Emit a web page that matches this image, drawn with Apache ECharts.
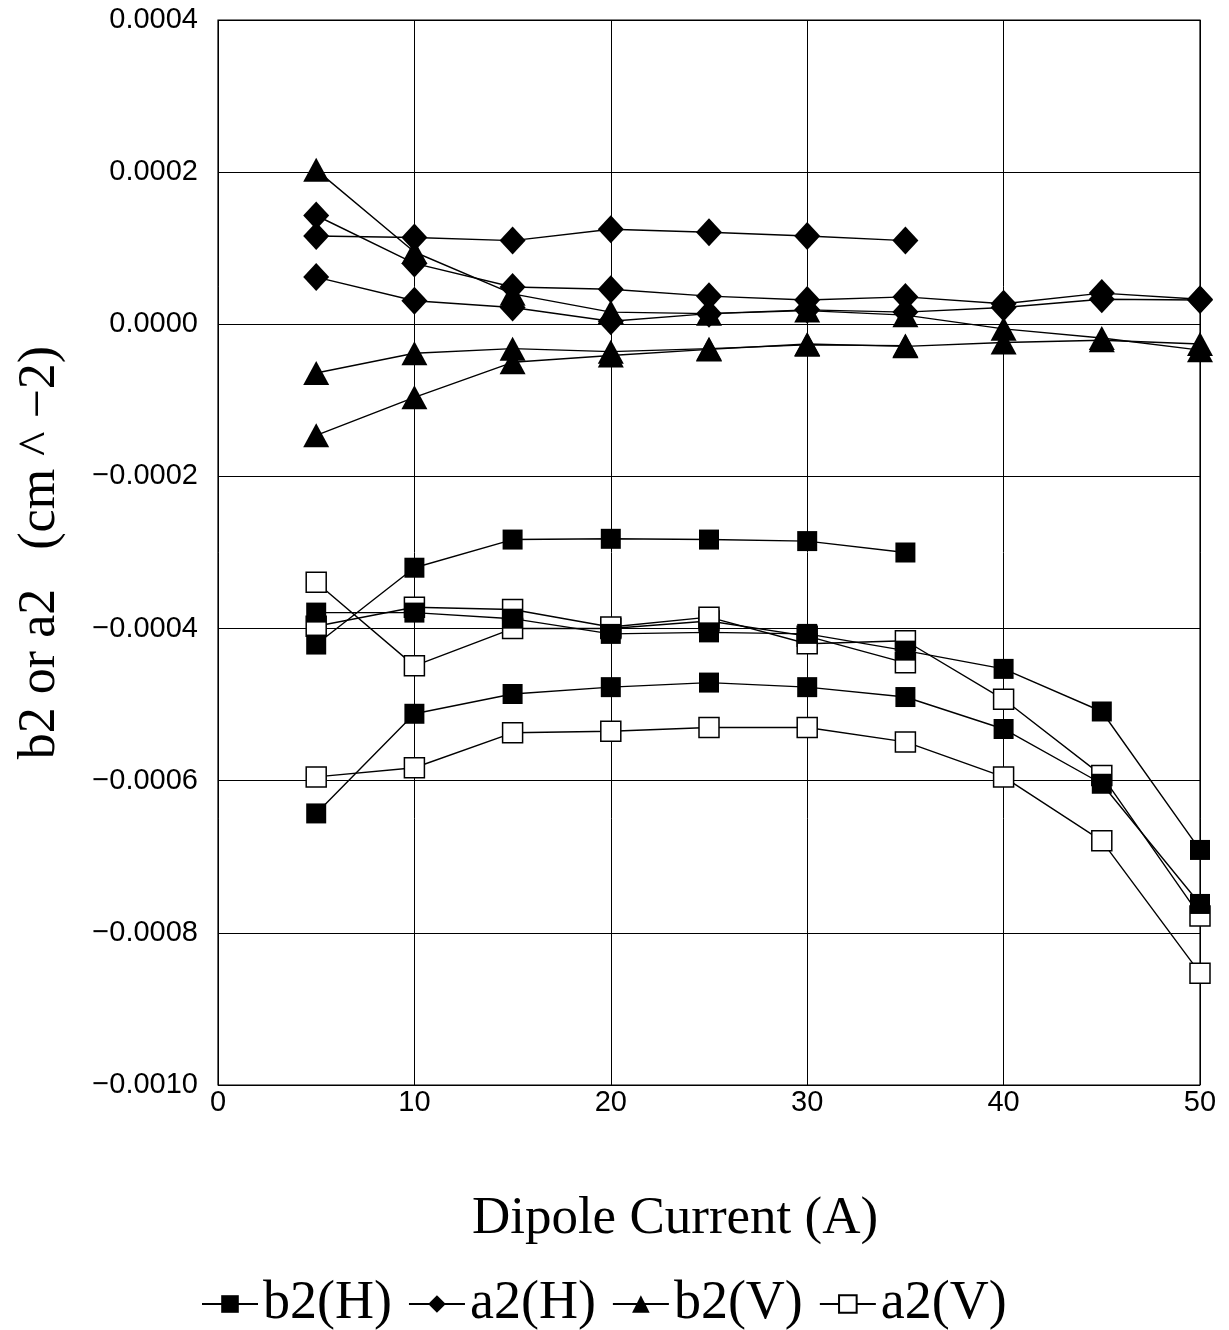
<!DOCTYPE html>
<html>
<head>
<meta charset="utf-8">
<script src="https://cdn.jsdelivr.net/npm/echarts@6/dist/echarts.min.js"></script>
<style>
  html, body { margin: 0; padding: 0; background: #fff; }
  #chart { width: 1229px; height: 1330px; }
</style>
</head>
<body>
<div id="chart"></div>
<script>
// dipole current (A)
const currents = [5, 10, 15, 20, 25, 30, 35, 40, 45, 50];

// run 1 stops at 35 A, runs 2 and 3 go up to 50 A
const b2H_1 = [-0.000421, -0.000320, -0.000283, -0.000282, -0.000283, -0.000285, -0.000300];
const b2H_2 = [-0.000379, -0.000379, -0.000387, -0.000407, -0.000405, -0.000407, -0.000429, -0.000453, -0.000509, -0.000691];
const b2H_3 = [-0.000643, -0.000512, -0.000486, -0.000477, -0.000471, -0.000477, -0.000490, -0.000532, -0.000604, -0.000762];

const a2H_1 = [0.000116, 0.000114, 0.000110, 0.000125, 0.000121, 0.000116, 0.000110];
const a2H_2 = [0.000143, 0.000080, 0.000049, 0.000046, 0.000037, 0.000032, 0.000036, 0.000027, 0.000041, 0.000033];
const a2H_3 = [0.000062, 0.000031, 0.000022, 0.000004, 0.000014, 0.000019, 0.000016, 0.000022, 0.000033, 0.000032];

const b2V_1 = [-0.000064, -0.000038, -0.000032, -0.000036, -0.000032, -0.000027, -0.000028];
const b2V_2 = [0.000203, 0.000095, 0.000040, 0.000016, 0.000014, 0.000018, 0.000012, -0.000006, -0.000018, -0.000034];
const b2V_3 = [-0.000146, -0.000096, -0.000050, -0.000041, -0.000033, -0.000026, -0.000029, -0.000024, -0.000021, -0.000026];

const a2V_1 = [-0.000339, -0.000449, -0.000400, -0.000400, -0.000390, -0.000410, -0.000445];
const a2V_2 = [-0.000397, -0.000372, -0.000375, -0.000398, -0.000385, -0.000420, -0.000416, -0.000493, -0.000593, -0.000778];
const a2V_3 = [-0.000595, -0.000583, -0.000537, -0.000535, -0.000530, -0.000530, -0.000549, -0.000595, -0.000679, -0.000853];

const legendNames = ['b2(H)', 'a2(H)', 'b2(V)', 'a2(V)'];

const serif = "'Liberation Serif', 'Times New Roman', serif";
const sans = "'Liberation Sans', Arial, sans-serif";

function pairs(vals) {
    return vals.map((v, i) => [currents[i], v]);
}

// marker look for each quantity
const looks = {
    'b2(H)': { symbol: 'rect', symbolSize: 20, itemStyle: { color: '#000' } },
    'a2(H)': { symbol: 'diamond', symbolSize: [26, 28], itemStyle: { color: '#000' } },
    'b2(V)': { symbol: 'triangle', symbolSize: [26, 24], itemStyle: { color: '#000' } },
    'a2(V)': { symbol: 'rect', symbolSize: 20, itemStyle: { color: '#fff', borderColor: '#000', borderWidth: 1.5 } }
};

function makeSeries(name, vals) {
    const look = looks[name];
    return {
        name: name,
        type: 'line',
        data: pairs(vals),
        symbol: look.symbol,
        symbolSize: look.symbolSize,
        showAllSymbol: true,
        itemStyle: look.itemStyle,
        lineStyle: { color: '#000', width: 1.4 },
        emphasis: { disabled: true },
        animation: false
    };
}

const seriesList = [
    makeSeries('b2(H)', b2H_1),
    makeSeries('b2(H)', b2H_2),
    makeSeries('b2(H)', b2H_3),
    makeSeries('a2(H)', a2H_1),
    makeSeries('a2(H)', a2H_2),
    makeSeries('a2(H)', a2H_3),
    makeSeries('b2(V)', b2V_1),
    makeSeries('b2(V)', b2V_2),
    makeSeries('b2(V)', b2V_3),
    makeSeries('a2(V)', a2V_1),
    makeSeries('a2(V)', a2V_2),
    makeSeries('a2(V)', a2V_3)
];
// open squares sit underneath the filled ones
seriesList.slice(9).forEach(s => { s.z = 1; });

const chart = echarts.init(document.getElementById('chart'));

const option = {
    backgroundColor: '#fff',
    animation: false,
    grid: {
        left: 218,
        right: 29,
        top: 20,
        bottom: 245,
        outerBoundsMode: 'none',
        containLabel: false,
        show: true,
        borderColor: '#000',
        borderWidth: 1.2
    },
    legend: {
        data: legendNames,
        left: 196,
        top: 1272,
        itemWidth: 56,
        itemHeight: 22,
        itemGap: 16,
        textStyle: { fontFamily: serif, fontSize: 54, color: '#000' },
        selectedMode: false
    },
    xAxis: {
        type: 'value',
        min: 0,
        max: 50,
        interval: 10,
        name: 'Dipole Current (A)',
        nameLocation: 'middle',
        nameGap: 108,
        nameTextStyle: { fontFamily: serif, fontSize: 53, color: '#000', padding: [0, 68, 0, 0] },
        axisLine: { show: false },
        axisTick: { show: false },
        axisLabel: { fontFamily: sans, fontSize: 29, color: '#000', margin: 3 },
        splitLine: { show: true, lineStyle: { color: '#000', width: 1 } }
    },
    yAxis: {
        type: 'value',
        min: -0.001,
        max: 0.0004,
        interval: 0.0002,
        name: 'b2 or a2   (cm ^ \u22122)',
        nameLocation: 'middle',
        nameRotate: 90,
        nameGap: 152,
        nameTextStyle: { fontFamily: serif, fontSize: 52, color: '#000' },
        axisLine: { show: false },
        axisTick: { show: false },
        axisLabel: {
            fontFamily: sans,
            fontSize: 29,
            color: '#000',
            margin: 20,
            formatter: function (v) {
                if (Math.abs(v) < 1e-12) v = 0;
                return v.toFixed(4).replace('-', '\u2212');
            }
        },
        splitLine: { show: true, lineStyle: { color: '#000', width: 1 } }
    },
    series: seriesList
};

chart.setOption(option);
</script>
</body>
</html>
